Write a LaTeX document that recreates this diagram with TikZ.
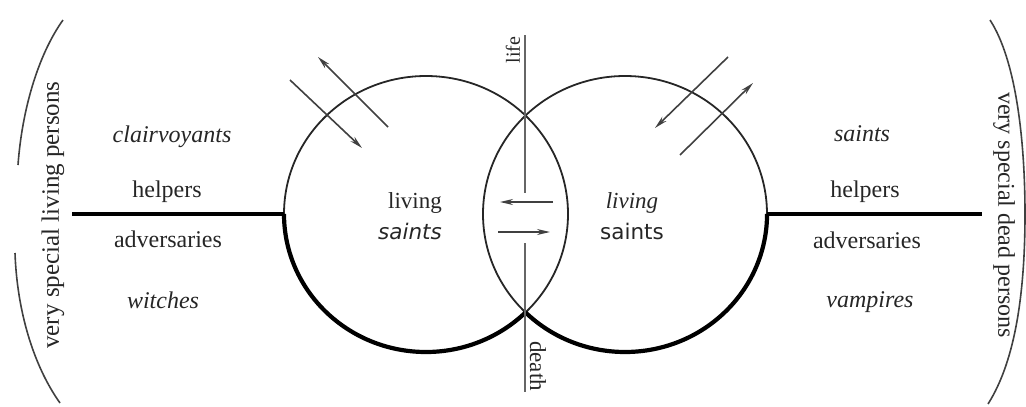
\documentclass[tikz,border=0pt]{standalone}
\usepackage{fontspec}
\setmainfont{Liberation Serif}
\newfontfamily\dvsans{DejaVu Sans}
\usetikzlibrary{arrows.meta}
\begin{document}
\begin{tikzpicture}[x=1pt,y=-1pt,
  thin line/.style={line width=1.8pt,black!85},
  bracket/.style={line width=1.6pt,black!75},
  thick line/.style={line width=4.2pt,black},
  axis/.style={line width=1.8pt,black!60},
  flow/.style={line width=1.6pt,black!75,-{Stealth[length=13pt,width=6pt]}},
  lbl/.style={font=\fontsize{24}{26}\selectfont,text=black!85,inner sep=0pt},
  ilbl/.style={lbl,font=\fontsize{24}{26}\selectfont\itshape},
  small/.style={font=\fontsize{20}{22}\selectfont,text=black!85,inner sep=0pt}]
\useasboundingbox (0,0) rectangle (1026,407);
% circles
\coordinate (CL) at (426,214);
\coordinate (CR) at (625,214);
\draw[thin line] (CL) ellipse[x radius=142pt, y radius=138pt];
\draw[thin line] (CR) ellipse[x radius=142pt, y radius=138pt];
\coordinate (Lw) at (284,214);
\coordinate (Re) at (767,214);
\draw[thick line] (Lw) arc[start angle=180, end angle=314.5, x radius=142pt, y radius=138pt] coordinate (Ib);
\draw[thick line] (Ib) arc[start angle=225.5, end angle=360, x radius=142pt, y radius=138pt];
% horizontal lines
\coordinate (Lend) at (72,214);
\coordinate (Rend) at (982,214);
\draw[thick line] (Lend) -- (Lw);
\draw[thick line] (Re) -- (Rend);
% vertical life/death axis
\coordinate (V1) at (525,35);
\coordinate (V2) at (525,193);
\coordinate (V3) at (525,243);
\coordinate (V4) at (525,392);
\draw[axis] (V1) -- (V2);
\draw[axis] (V3) -- (V4);
\node[small,rotate=90] (life) at (513,50) {life};
\node[lbl,font=\fontsize{23}{25}\selectfont,rotate=-90] (death) at (538,366) {death};
% lens arrows
\coordinate (a1s) at (553,202); \coordinate (a1e) at (500,202);
\coordinate (a2s) at (498,232); \coordinate (a2e) at (550,232);
\draw[flow] (a1s) -- (a1e);
\draw[flow] (a2s) -- (a2e);
% crossing arrows
\coordinate (b1s) at (388,127); \coordinate (b1e) at (318,57);
\coordinate (b2s) at (290,80);  \coordinate (b2e) at (362,148);
\coordinate (c1s) at (728,57);  \coordinate (c1e) at (655,128);
\coordinate (c2s) at (680,155); \coordinate (c2e) at (753,83);
\draw[flow] (b1s) -- (b1e);
\draw[flow] (b2s) -- (b2e);
\draw[flow] (c1s) -- (c1e);
\draw[flow] (c2s) -- (c2e);
% inner labels
\node[lbl,font=\fontsize{23}{25}\selectfont] (livL) at (415,203) {living};
\node[lbl,font=\dvsans\itshape\fontsize{21.5}{23}\selectfont] (saiL) at (410,231) {saints};
\node[ilbl,font=\fontsize{23}{25}\selectfont\itshape] (livR) at (632,203) {living};
\node[lbl,font=\dvsans\fontsize{21.5}{23}\selectfont] (saiR) at (632,231) {saints};
% left labels
\node[ilbl] (clair) at (172,137) {clairvoyants};
\node[lbl] (helpL) at (167,192) {helpers};
\node[lbl] (advL) at (168,239) {adversaries};
\node[ilbl] (witch) at (163,300) {witches};
% right labels
\node[ilbl] (saints) at (862,134) {saints};
\node[lbl] (helpR) at (865,192) {helpers};
\node[lbl] (advR) at (867,240) {adversaries};
\node[ilbl] (vamp) at (870,302) {vampires};
% side labels
\node[lbl,font=\fontsize{25}{27}\selectfont,rotate=90] (living persons) at (53,215) {very special living persons};
\node[lbl,rotate=-90] (dead persons) at (1004,215) {very special dead persons};
% brackets
\coordinate (p1) at (63,20); \coordinate (p2) at (18,165);
\coordinate (p3) at (15,253); \coordinate (p4) at (60,403);
\draw[bracket] (p1) .. controls (38,55) and (22,110) .. (p2);
\draw[bracket] (p3) .. controls (17,310) and (33,365) .. (p4);
\coordinate (q1) at (990,20); \coordinate (q2) at (1025,214); \coordinate (q3) at (988,404);
\draw[bracket] (q1) .. controls (1016,60) and (1025,140) .. (q2) .. controls (1025,290) and (1016,360) .. (q3);
\end{tikzpicture}
\end{document}
